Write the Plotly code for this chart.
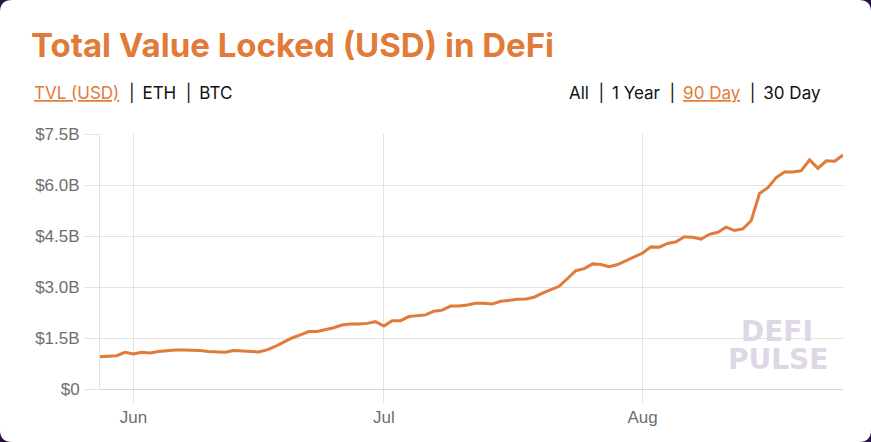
import pandas as pd
import plotly.graph_objects as go

# Data: daily TVL in billions USD
start_date = "2020-05-28"
tvl_billion = [
    0.95, 0.97, 0.98, 1.08, 1.03, 1.08, 1.06, 1.10, 1.13, 1.15,
    1.15, 1.15, 1.13, 1.10, 1.10, 1.08, 1.13, 1.12, 1.09, 1.09,
    1.15, 1.25, 1.38, 1.50, 1.59, 1.69, 1.69, 1.74, 1.80, 1.88,
    1.91, 1.91, 1.93, 1.98, 1.85, 2.01, 2.01, 2.13, 2.16, 2.18,
    2.29, 2.32, 2.44, 2.44, 2.47, 2.52, 2.52, 2.50, 2.58, 2.62,
    2.64, 2.65, 2.70, 2.82, 2.92, 3.02, 3.25, 3.48, 3.54, 3.68,
    3.66, 3.60, 3.66, 3.77, 3.89, 4.00, 4.18, 4.17, 4.28, 4.33,
    4.48, 4.46, 4.41, 4.55, 4.61, 4.76, 4.66, 4.71, 4.95, 5.75,
    5.92, 6.22, 6.38, 6.38, 6.42, 6.74, 6.49, 6.71, 6.70, 6.88,
]
y_ticks = [0, 1.5, 3.0, 4.5, 6.0, 7.5]
y_tick_labels = ["$0", "$1.5B", "$3.0B", "$4.5B", "$6.0B", "$7.5B"]

dates = pd.date_range(start_date, periods=len(tvl_billion), freq="D")

ORANGE = "#e07b39"
GRID = "#e2e2e2"
W, H = 871, 442
ML, MR, MT, MB = 100, 28, 134, 53


def px_x(x):  # pixel -> paper x
    return (x - ML) / (W - ML - MR)


def px_y(y):  # pixel -> paper y
    return (H - MB - y) / (H - MT - MB)


fig = go.Figure()
fig.add_trace(go.Scatter(x=dates, y=tvl_billion, mode="lines",
                         line=dict(color=ORANGE, width=3), hoverinfo="skip"))

# rounded white card on dark page
r = 12
x0, x1, y0, y1 = px_x(0), px_x(W), px_y(H), px_y(0)
rx, ry = px_x(r) - px_x(0), px_y(0) - px_y(r)
card = (f"M {x0+rx} {y1} L {x1-rx} {y1} Q {x1} {y1} {x1} {y1-ry} "
        f"L {x1} {y0+ry} Q {x1} {y0} {x1-rx} {y0} L {x0+rx} {y0} "
        f"Q {x0} {y0} {x0} {y0+ry} L {x0} {y1-ry} Q {x0} {y1} {x0+rx} {y1} Z")
fig.add_shape(type="path", path=card, xref="paper", yref="paper",
              fillcolor="white", line_width=0, layer="below")

sep = "\u00a0 |\u00a0\u2009"
annos = [
    dict(text="<b>Total Value Locked (USD) in DeFi</b>", x=px_x(29), y=px_y(45),
         xanchor="left", font=dict(family="Inter", size=33, color=ORANGE)),
    dict(text=f'<span style="color:{ORANGE}"><u>TVL (USD)</u></span>{sep}ETH{sep}BTC',
         x=px_x(32), y=px_y(93), xanchor="left",
         font=dict(family="Inter", size=17, color="#111111")),
    dict(text=f'All{sep}1 Year{sep}<span style="color:{ORANGE}"><u>90 Day</u></span>{sep}30 Day',
         x=px_x(823), y=px_y(93), xanchor="right",
         font=dict(family="Inter", size=17, color="#111111")),
    # watermark
    dict(text="<b>DEFI</b>", x=px_x(777), y=px_y(331), xanchor="center",
         font=dict(family="DejaVu Sans", size=28, color="#ddd7e6")),
    dict(text="<b>PULSE</b>", x=px_x(778), y=px_y(359), xanchor="center",
         font=dict(family="DejaVu Sans", size=28, color="#ddd7e6")),
]
for a in annos:
    a.update(xref="paper", yref="paper", showarrow=False, yanchor="middle")

fig.update_layout(
    width=W, height=H,
    margin=dict(l=ML, r=MR, t=MT, b=MB),
    paper_bgcolor="#2a1046", plot_bgcolor="white",
    showlegend=False,
    annotations=annos,
    font=dict(family="Liberation Sans", size=17, color="#6e6e6e"),
)
fig.update_xaxes(range=[dates[0], dates[-1]], tickformat="%b", dtick="M1",
                 tick0="2020-06-01", showgrid=True, gridcolor=GRID,
                 ticks="outside", ticklen=13, tickcolor=GRID,
                 zeroline=False, showline=False)
fig.update_yaxes(range=[0, 7.5], tickvals=y_ticks, ticktext=y_tick_labels,
                 showgrid=True, gridcolor=GRID, ticks="outside", ticklen=15,
                 tickcolor=GRID, showline=True, linecolor=GRID, zeroline=True,
                 zerolinecolor="#d4d4d4", zerolinewidth=1, ticklabelstandoff=1)

fig.write_html("out.html", config={"displayModeBar": False},
               post_script="document.body.style.margin='0';")
